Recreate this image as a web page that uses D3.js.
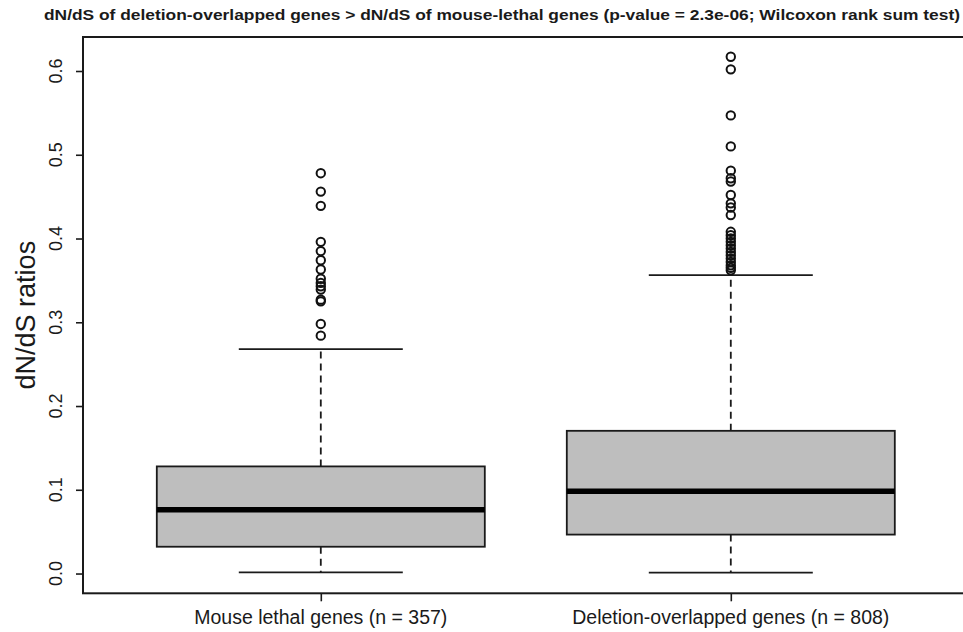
<!DOCTYPE html>
<html><head><meta charset="utf-8">
<script src="https://cdn.jsdelivr.net/npm/d3@7/dist/d3.min.js"></script>
<style>body{margin:0;background:#fff}svg{display:block}text{font-family:"Liberation Sans",Arial,Helvetica,sans-serif;fill:#1a1a1a}</style>
</head><body><svg id="c" width="963" height="632"></svg>
<script>
const categories = ["Mouse lethal genes (n = 357)", "Deletion-overlapped genes (n = 808)"];
const whiskerLow  = [0.0015, 0.001];
const q1          = [0.032, 0.0465];
const medians     = [0.0763, 0.0981];
const q3          = [0.1279, 0.1704];
const whiskerHigh = [0.268, 0.3564];
const outliers1 = [0.478, 0.456, 0.439, 0.396, 0.385, 0.374, 0.363, 0.352, 0.347, 0.343, 0.339, 0.327, 0.325, 0.298, 0.284];
const outliers2 = [0.617, 0.602, 0.547, 0.510, 0.481, 0.472, 0.468, 0.452, 0.442, 0.437, 0.428, 0.408, 0.404, 0.400, 0.396, 0.392, 0.388, 0.384, 0.380, 0.376, 0.372, 0.368, 0.365, 0.362];
const yTicks = [0.0, 0.1, 0.2, 0.3, 0.4, 0.5, 0.6];
const titleText = "dN/dS of deletion-overlapped genes > dN/dS of mouse-lethal genes (p-value = 2.3e-06; Wilcoxon rank sum test)";
const yLabel = "dN/dS ratios";

const svg = d3.select("#c");
const L = 83, T = 37, B = 593.3, R = 968.6;
const x = d3.scaleLinear().domain([0.42, 2.58]).range([L, R]);
const y = d3.scaleLinear().domain([-0.0236, 0.6406]).range([B, T]);
const ink = "#1a1a1a";
const boxW = 0.8, capW = 0.4;

// frame
svg.append("rect").attr("x", L).attr("y", T).attr("width", R - L).attr("height", B - T)
  .attr("fill", "none").attr("stroke", ink).attr("stroke-width", 2);

// y axis
const ya = svg.append("g").attr("transform", `translate(${L},0)`)
  .call(d3.axisLeft(y).tickValues(yTicks).tickSize(7).tickFormat(""));
ya.select(".domain").remove();
ya.selectAll("line").attr("stroke", ink).attr("stroke-width", 1.6);
svg.append("g").selectAll("text").data(yTicks).join("text")
  .attr("transform", d => `translate(62,${y(d)}) rotate(-90)`)
  .attr("text-anchor", "middle").attr("font-size", 18)
  .text(d => d.toFixed(1));

// x axis
const xa = svg.append("g").attr("transform", `translate(0,${B})`)
  .call(d3.axisBottom(x).tickValues([1, 2]).tickSize(8).tickFormat(""));
xa.select(".domain").remove();
xa.selectAll("line").attr("stroke", ink).attr("stroke-width", 1.6);
svg.append("g").selectAll("text").data(categories).join("text")
  .attr("x", (d, i) => x(i + 1)).attr("y", 624)
  .attr("text-anchor", "middle").attr("font-size", 19.5)
  .text(d => d);

// boxes
const idx = [0, 1];
const g = svg.append("g");
// whiskers (dashed)
g.selectAll(".wl").data(idx).join("line")
  .attr("x1", i => x(i + 1)).attr("x2", i => x(i + 1))
  .attr("y1", i => y(q1[i])).attr("y2", i => y(whiskerLow[i]))
  .attr("stroke", ink).attr("stroke-width", 1.8).attr("stroke-dasharray", "7,5");
g.selectAll(".wh").data(idx).join("line")
  .attr("x1", i => x(i + 1)).attr("x2", i => x(i + 1))
  .attr("y1", i => y(q3[i])).attr("y2", i => y(whiskerHigh[i]))
  .attr("stroke", ink).attr("stroke-width", 1.8).attr("stroke-dasharray", "7,5");
// caps
[whiskerLow, whiskerHigh].forEach(arr => {
  g.append("g").selectAll("line").data(idx).join("line")
    .attr("x1", i => x(i + 1 - capW / 2)).attr("x2", i => x(i + 1 + capW / 2))
    .attr("y1", i => y(arr[i])).attr("y2", i => y(arr[i]))
    .attr("stroke", ink).attr("stroke-width", 1.8);
});
// box rects
g.append("g").selectAll("rect").data(idx).join("rect")
  .attr("x", i => x(i + 1 - boxW / 2)).attr("width", i => x(i + 1 + boxW / 2) - x(i + 1 - boxW / 2))
  .attr("y", i => y(q3[i])).attr("height", i => y(q1[i]) - y(q3[i]))
  .attr("fill", "#bebebe").attr("stroke", ink).attr("stroke-width", 1.8);
// medians
g.append("g").selectAll("line").data(idx).join("line")
  .attr("x1", i => x(i + 1 - boxW / 2)).attr("x2", i => x(i + 1 + boxW / 2))
  .attr("y1", i => y(medians[i])).attr("y2", i => y(medians[i]))
  .attr("stroke", "#000").attr("stroke-width", 5.5);
// outliers
[outliers1, outliers2].forEach((arr, i) => {
  g.append("g").selectAll("circle").data(arr).join("circle")
    .attr("cx", x(i + 1)).attr("cy", d => y(d)).attr("r", 4.2)
    .attr("fill", "none").attr("stroke", "#111").attr("stroke-width", 2);
});

// y label
svg.append("text").attr("transform", `translate(35,${(T + B) / 2}) rotate(-90)`)
  .attr("text-anchor", "middle").attr("font-size", 27).text(yLabel);

// title
const t = svg.append("text").attr("x", 44).attr("y", 20)
  .attr("font-size", 15).attr("font-weight", "bold").text(titleText);
t.attr("textLength", 916).attr("lengthAdjust", "spacingAndGlyphs");
</script></body></html>
